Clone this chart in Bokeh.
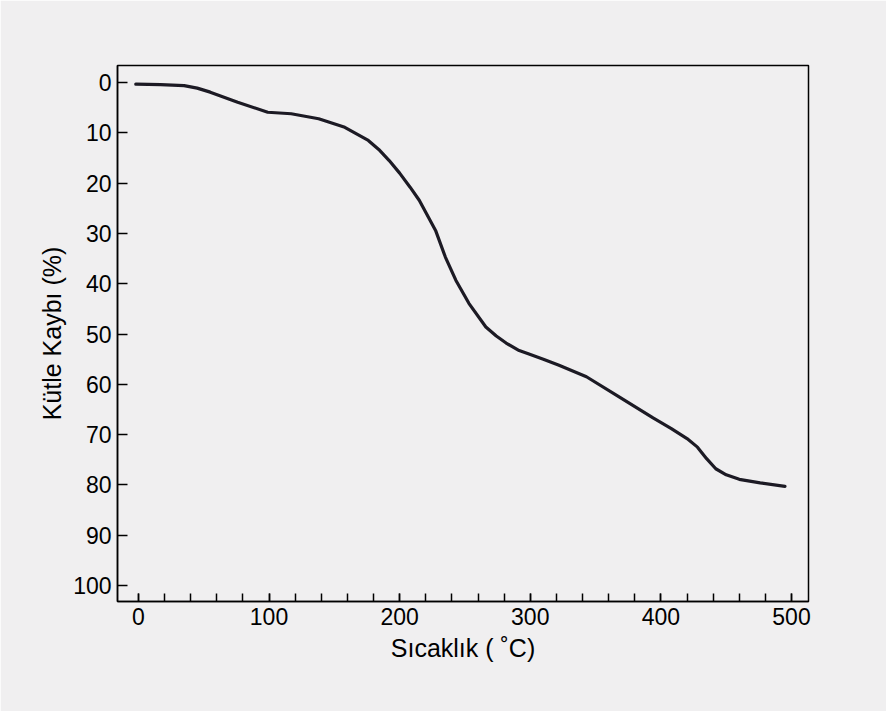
from bokeh.plotting import figure
from bokeh.models import Range1d, SingleIntervalTicker, ColumnDataSource
from bokeh.embed import file_html
from bokeh.resources import INLINE

# Data
temperature = [-2, 17, 35, 45, 55, 76, 99, 117, 138, 158, 176, 184, 192, 200, 208, 215,
               227.5, 235, 243, 253, 266, 274, 281.5, 291.5, 299, 310, 322, 343, 368, 394,
               408, 420, 428, 435, 442, 450, 460, 476, 495]
mass_loss = [0.3, 0.4, 0.6, 1.1, 1.9, 3.9, 5.9, 6.2, 7.2, 8.9, 11.5, 13.3, 15.5, 18, 20.8, 23.4,
             29.4, 34.7, 39.3, 43.9, 48.6, 50.4, 51.8, 53.3, 54.0, 55.0, 56.2, 58.5, 62.5, 66.7,
             68.8, 70.8, 72.5, 74.8, 76.8, 78.0, 78.9, 79.6, 80.3]
x_label = "Sıcaklık ( ˚C)"
y_label = "Kütle Kaybı (%)"

bg = "#f0eff0"
font = "Liberation Sans"

p = figure(width=886, height=711, output_backend="svg", toolbar_location=None,
           x_range=Range1d(-16, 513), y_range=Range1d(103.2, -3.4),
           min_border_left=117, min_border_right=78, min_border_top=65, min_border_bottom=110)
p.background_fill_color = bg
p.border_fill_color = bg
p.outline_line_color = "black"
p.outline_line_width = 1.5
p.xgrid.visible = False
p.ygrid.visible = False

src = ColumnDataSource(dict(x=temperature, y=mass_loss))
p.line("x", "y", source=src, line_color="#1c1a24", line_width=3.2, line_join="round", line_cap="round")

xa = p.xaxis[0]
xa.ticker = SingleIntervalTicker(interval=100, num_minor_ticks=5)
xa.major_tick_in = 8
xa.major_tick_out = 0
xa.minor_tick_in = 8
xa.minor_tick_out = 0
xa.axis_line_width = 1.5
xa.major_tick_line_width = 1.5
xa.minor_tick_line_width = 1.5
xa.major_label_text_font = font
xa.major_label_text_font_size = "23px"
xa.major_label_text_color = "black"
xa.major_label_standoff = 6
xa.axis_label = x_label
xa.axis_label_text_font = font
xa.axis_label_text_font_size = "25px"
xa.axis_label_text_font_style = "normal"
xa.axis_label_text_color = "black"
xa.axis_label_standoff = 6

ya = p.yaxis[0]
ya.ticker = SingleIntervalTicker(interval=10, num_minor_ticks=0)
ya.major_tick_in = 10
ya.major_tick_out = 0
ya.minor_tick_in = 0
ya.minor_tick_out = 0
ya.axis_line_width = 1.5
ya.major_tick_line_width = 1.5
ya.major_label_text_font = font
ya.major_label_text_font_size = "23px"
ya.major_label_text_color = "black"
ya.major_label_standoff = 6
ya.axis_label = y_label
ya.axis_label_text_font = font
ya.axis_label_text_font_size = "25px"
ya.axis_label_text_font_style = "normal"
ya.axis_label_text_color = "black"
ya.axis_label_standoff = 4

open("out.html", "w").write(file_html(p, INLINE))
